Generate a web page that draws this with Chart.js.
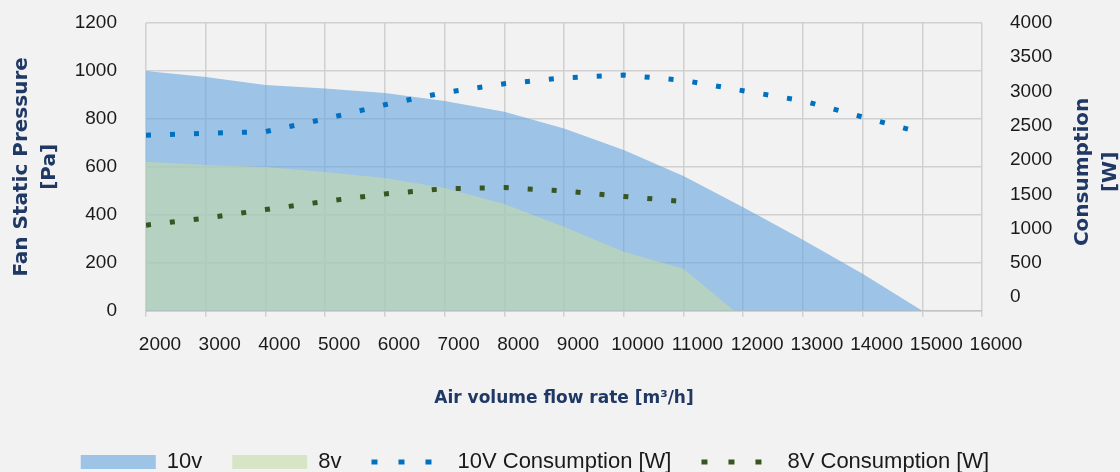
<!DOCTYPE html>
<html>
<head>
<meta charset="utf-8">
<title>Fan curve</title>
<script src="https://cdn.jsdelivr.net/npm/chart.js@4.4.1/dist/chart.umd.min.js"></script>
<style>
  html, body { margin: 0; padding: 0; background: #f2f2f2; }
  #wrap { width: 1120px; height: 472px; }
</style>
</head>
<body>
<div id="wrap"><canvas id="fanChart"></canvas></div>
<script>
// Air volume flow rate [m³/h]
const flow10 = [2000, 3000, 4000, 5000, 6000, 7000, 8000, 9000, 10000, 11000, 12000, 13000, 14000, 15000];
const flow8 = [2000, 3000, 4000, 5000, 6000, 7000, 8000, 9000, 10000, 11000, 11850];
const flowCons8 = [2000, 3000, 4000, 5000, 6000, 7000, 8000, 9000, 10000, 11000];

// Fan static pressure [Pa]
const pressure10 = [1000, 975, 942, 927, 908, 875, 830, 760, 670, 562, 432, 296, 154, 0];
const pressure8 = [621, 608, 600, 579, 554, 512, 445, 350, 246, 175, 0];

// Consumption [W]
const consumption10 = [2362, 2390, 2415, 2600, 2807, 2986, 3113, 3200, 3240, 3164, 3012, 2865, 2628, 2395];
const consumption8 = [1050, 1152, 1277, 1397, 1505, 1582, 1598, 1550, 1469, 1395];

// tick labels
const xTickValues = [2000, 3000, 4000, 5000, 6000, 7000, 8000, 9000, 10000, 11000, 12000, 13000, 14000, 15000, 16000];
const yTickValues = [0, 200, 400, 600, 800, 1000, 1200];
const y1TickValues = [0, 500, 1000, 1500, 2000, 2500, 3000, 3500, 4000];

const titleColor = '#203864';
const tickColor = '#1a1a1a';
const gridColor = '#d0d0d0';
const tickFont = { family: 'Liberation Sans', size: 19 };
const titleFont = { family: 'DejaVu Sans', size: 20, weight: 'bold', lineHeight: 1.4 };

const pts = (xs, ys) => xs.map((x, i) => ({ x: x, y: ys[i] }));
const setTicks = values => s => { s.ticks = values.map(v => ({ value: v })); };
const noPad = s => { s.paddingTop = 0; s.paddingBottom = 0; s.paddingLeft = 0; s.paddingRight = 0; };

// right axis title reads bottom-to-top like the left one
const rightTitle = {
  id: 'rightTitle',
  afterDraw(chart) {
    const ctx = chart.ctx;
    const area = chart.chartArea;
    const cy = (area.top + area.bottom) / 2 + 5;
    ctx.save();
    ctx.fillStyle = titleColor;
    ctx.font = 'bold 20px "DejaVu Sans"';
    ctx.textAlign = 'center';
    ctx.textBaseline = 'middle';
    ['Consumption', '[W]'].forEach((line, i) => {
      ctx.save();
      ctx.translate(area.right + 101 + i * 28, cy);
      ctx.rotate(-Math.PI / 2);
      ctx.fillText(line, 0, 0);
      ctx.restore();
    });
    ctx.restore();
  }
};

const ctx = document.getElementById('fanChart').getContext('2d');
const fanChart = new Chart(ctx, {
  type: 'line',
  data: {
    datasets: [{
      label: '10v',
      data: pts(flow10, pressure10),
      yAxisID: 'y',
      fill: 'origin',
      backgroundColor: 'rgba(100, 164, 222, 0.6)',
      borderWidth: 0,
      pointRadius: 0,
      order: 3
    }, {
      label: '8v',
      data: pts(flow8, pressure8),
      yAxisID: 'y',
      fill: 'origin',
      backgroundColor: 'rgba(197, 218, 168, 0.6)',
      borderWidth: 0,
      pointRadius: 0,
      order: 2
    }, {
      label: '10V Consumption [W]',
      data: pts(flow10, consumption10),
      yAxisID: 'y1',
      fill: false,
      borderColor: '#0070c0',
      borderWidth: 5,
      borderDash: [5, 19],
      borderCapStyle: 'butt',
      pointRadius: 0,
      order: 0
    }, {
      label: '8V Consumption [W]',
      data: pts(flowCons8, consumption8),
      yAxisID: 'y1',
      fill: false,
      borderColor: '#375623',
      borderWidth: 5,
      borderDash: [5, 19],
      borderCapStyle: 'butt',
      pointRadius: 0,
      order: 1
    }]
  },
  options: {
    responsive: true,
    maintainAspectRatio: false,
    animation: false,
    layout: { padding: { top: 23, right: 58, bottom: -11, left: 8 } },
    plugins: {
      tooltip: { enabled: false },
      legend: {
        position: 'bottom',
        labels: {
          usePointStyle: true,
          pointStyleWidth: 75,
          boxHeight: 14,
          padding: 30,
          font: { family: 'Liberation Sans', size: 22 },
          generateLabels: chart => chart.data.datasets.map((ds, i) => ({
            text: ds.label,
            datasetIndex: i,
            fontColor: tickColor,
            hidden: false,
            fillStyle: ds.fill ? ds.backgroundColor : 'rgba(0,0,0,0)',
            strokeStyle: ds.borderColor,
            lineWidth: ds.fill ? 0 : ds.borderWidth,
            lineDash: ds.fill ? [] : [6, 21],
            lineCap: 'butt',
            pointStyle: ds.fill ? 'rect' : 'line'
          }))
        }
      }
    },
    scales: {
      x: {
        type: 'linear',
        min: xTickValues[0],
        max: xTickValues[xTickValues.length - 1],
        afterBuildTicks: setTicks(xTickValues),
        afterFit: noPad,
        ticks: {
          autoSkip: false,
          maxRotation: 0,
          labelOffset: 14,
          padding: 17,
          color: tickColor,
          font: tickFont,
          callback: v => String(v)
        },
        grid: { color: gridColor, lineWidth: 1.5, tickLength: 6 },
        border: { color: '#c4c4c4', width: 1.5 },
        title: {
          display: true,
          text: 'Air volume flow rate [m³/h]',
          color: titleColor,
          font: { family: 'DejaVu Sans', size: 17, weight: 'bold' },
          padding: { top: 15, bottom: 12 }
        }
      },
      y: {
        position: 'left',
        min: yTickValues[0],
        max: yTickValues[yTickValues.length - 1],
        afterBuildTicks: setTicks(yTickValues),
        afterFit: s => { noPad(s); s.width = 138; },
        ticks: {
          padding: 29,
          color: tickColor,
          font: tickFont,
          callback: v => String(v)
        },
        grid: { color: gridColor, lineWidth: 1.5, drawTicks: false },
        border: { display: false },
        title: {
          display: true,
          text: ['Fan Static Pressure', '[Pa]'],
          color: titleColor,
          font: titleFont,
          padding: { top: 0, bottom: 0 }
        }
      },
      y1: {
        position: 'right',
        min: -200,
        max: y1TickValues[y1TickValues.length - 1],
        afterBuildTicks: setTicks(y1TickValues),
        afterFit: s => { noPad(s); s.width = 80; },
        ticks: {
          padding: 28,
          color: tickColor,
          font: tickFont,
          callback: v => String(v)
        },
        grid: { display: false, drawTicks: false },
        border: { display: false }
      }
    }
  },
  plugins: [rightTitle]
});
</script>
</body>
</html>
